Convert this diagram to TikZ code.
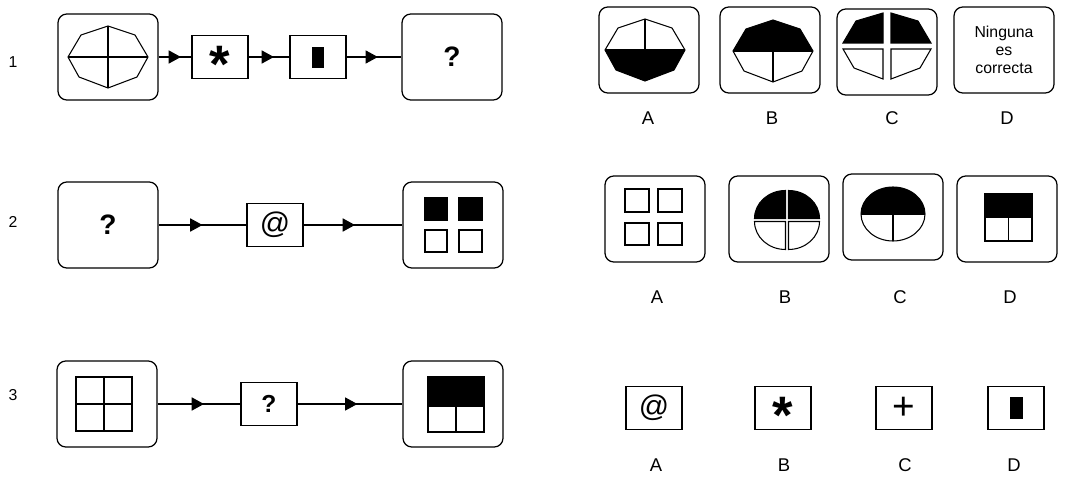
\documentclass[tikz,border=0pt]{standalone}
\usepackage{fontspec}
\setmainfont{Liberation Sans}
\usetikzlibrary{arrows.meta,decorations.markings}
\tikzset{
	panel/.style={shape=rectangle, rounded corners=5pt, draw=black, line width=0.7pt, minimum width=2cm, minimum height=1.72cm, inner sep=0pt},
	op/.style={shape=rectangle, draw=black, line width=0.7pt, minimum width=1.12cm, minimum height=0.86cm, inner sep=0pt},
	flow/.style={draw=black, line width=0.6pt, postaction={decorate}, decoration={markings, mark=at position #1 with {\arrow{Triangle[length=7pt,width=7.5pt]}}}},
	flow/.default=0.5,
	num/.style={font=\fontsize{9}{10}\selectfont},
	letter/.style={font=\fontsize{10.5}{12}\selectfont},
	quest/.style={font=\fontsize{16}{18}\selectfont\bfseries},
	smallquest/.style={font=\fontsize{14}{16}\selectfont\bfseries},
	sym/.style={font=\fontsize{17}{18}\selectfont},
	plus/.style={font=\fontsize{22}{24}\selectfont},
	star/.style={font=\fontsize{30}{30}\selectfont\bfseries},
	note/.style={font=\fontsize{9}{10.2}\selectfont, align=center},
	fig/.style={line width=0.6pt}
}
\newcommand{\octpath}{(-40,0) -- (-27,-22) -- (0,-31) -- (27,-22) -- (40,0) -- (29,20) -- (0,31) -- (-29,20) -- cycle}
\newcommand{\opstar}{\smash{\raisebox{-14.5pt}{*}}}

\begin{document}
\begin{tikzpicture}[x=0.02cm, y=-0.02cm]
	\useasboundingbox (0,0) rectangle (1065,483);

	\node[num]              (r1) at (13,62)   {1};
	\node[num]              (r2) at (13,222)  {2};
	\node[num]              (r3) at (13,395)  {3};

	\node[panel]            (1a) at (108,57)  {};
	\node[op, star]         (1b) at (220,57)  {\opstar};
	\node[op]               (1c) at (318,57)  {};
	\node[panel, quest]     (1d) at (452,57)  {?};

	\node[panel, quest]     (2a) at (108,225) {?};
	\node[op, sym]          (2b) at (275,225) {@};
	\node[panel]            (2c) at (453,225) {};

	\node[panel]            (3a) at (107,404) {};
	\node[op, smallquest]   (3b) at (269,404) {?};
	\node[panel]            (3c) at (453,404) {};

	\path (1a) edge[flow=0.68] (1b);
	\path (1b) edge[flow=0.62] (1c);
	\path (1c) edge[flow=0.57] (1d);
	\path (2a) edge[flow=0.5]  (2b);
	\path (2b) edge[flow=0.52] (2c);
	\path (3a) edge[flow=0.56] (3b);
	\path (3b) edge[flow=0.57] (3c);

	\begin{scope}[shift={(1a.center)}, fig]
		\draw \octpath;
		\draw (-40,0) -- (40,0) (0,-31) -- (0,31);
	\end{scope}
	\fill (1c.center) ++(-6,-10) rectangle ++(12,21);
	\begin{scope}[shift={(2c.center)}, fig]
		\filldraw (-28,-27) rectangle (-6,-5);
		\filldraw (6,-27)   rectangle (29,-5);
		\draw     (-28,5)   rectangle (-6,27);
		\draw     (6,5)     rectangle (29,27);
	\end{scope}
	\begin{scope}[shift={(3a.center)}, fig]
		\draw (-31,-27) rectangle (25,27);
		\draw (-31,0) -- (25,0) (-3,-27) -- (-3,27);
	\end{scope}
	\begin{scope}[shift={(3c.center)}, fig]
		\filldraw (-25,-27) rectangle (31,2);
		\draw (-25,2) rectangle (31,28);
		\draw (3,2) -- (3,28);
	\end{scope}

	\node[panel]            (1A) at (649,50)  {};
	\node[panel]            (1B) at (770,50)  {};
	\node[panel]            (1C) at (887,52)  {};
	\node[panel, note]      (1D) at (1004,50) {Ninguna\\es\\correcta};
	\node[letter]           (l1A) at (648,118) {A};
	\node[letter]           (l1B) at (772,118) {B};
	\node[letter]           (l1C) at (892,118) {C};
	\node[letter]           (l1D) at (1007,118) {D};

	\begin{scope}[shift={(645,50)}, fig]
		\fill (-40,0) -- (40,0) -- (29,20) -- (0,31) -- (-29,20) -- cycle;
		\draw \octpath;
		\draw (-40,0) -- (40,0) (0,-31) -- (0,0);
	\end{scope}
	\begin{scope}[shift={(773,51)}, fig]
		\fill (-40,0) -- (-27,-22) -- (0,-31) -- (27,-22) -- (40,0) -- cycle;
		\draw \octpath;
		\draw (-40,0) -- (40,0) (0,0) -- (0,31);
	\end{scope}
	\begin{scope}[shift={(887,46)}, fig]
		\filldraw (-4,-3) -- (-44,-3) -- (-31,-25) -- (-4,-33) -- cycle;
		\filldraw (4,-3)  -- (44,-3)  -- (31,-25)  -- (4,-33)  -- cycle;
		\draw     (-4,3)  -- (-44,3)  -- (-33,22)  -- (-4,33)  -- cycle;
		\draw     (4,3)   -- (44,3)   -- (33,22)   -- (4,33)   -- cycle;
	\end{scope}

	\node[panel]            (2A) at (655,219) {};
	\node[panel]            (2B) at (779,219) {};
	\node[panel]            (2C) at (893,217) {};
	\node[panel]            (2D) at (1007,219) {};
	\node[letter]           (l2A) at (657,297) {A};
	\node[letter]           (l2B) at (785,297) {B};
	\node[letter]           (l2C) at (900,297) {C};
	\node[letter]           (l2D) at (1010,297) {D};

	\begin{scope}[shift={(2A.center)}, fig]
		\draw (-30,-30) rectangle (-6,-7);
		\draw (3,-30)   rectangle (27,-7);
		\draw (-30,4)   rectangle (-6,26);
		\draw (3,4)     rectangle (27,26);
	\end{scope}
	\begin{scope}[shift={(787,220)}, fig]
		\filldraw (-1.5,-1.5) -- ++(-31,0) arc (180:270:31 and 28) -- cycle;
		\filldraw (1.5,-1.5)  -- ++(31,0)  arc (0:-90:31 and 28)   -- cycle;
		\draw     (-1.5,1.5)  -- ++(-31,0) arc (180:90:31 and 28)  -- cycle;
		\draw     (1.5,1.5)   -- ++(31,0)  arc (0:90:31 and 28)    -- cycle;
	\end{scope}
	\begin{scope}[shift={(893,214)}, fig]
		\fill (-32,0) arc (180:360:32 and 27) -- cycle;
		\draw (0,0) ellipse (32 and 27);
		\draw (-32,0) -- (32,0) (0,0) -- (0,27);
	\end{scope}
	\begin{scope}[fig]
		\filldraw (985,194) rectangle (1032,217);
		\draw (985,217) rectangle (1032,241);
		\draw (1008.5,217) -- (1008.5,241);
	\end{scope}

	\node[op, sym]          (3A) at (654,408) {@};
	\node[op, star]         (3B) at (783,408) {\opstar};
	\node[op, plus]         (3C) at (904,408) {+};
	\node[op]               (3D) at (1016,408) {};
	\node[letter]           (l3A) at (656,465) {A};
	\node[letter]           (l3B) at (784,465) {B};
	\node[letter]           (l3C) at (905,465) {C};
	\node[letter]           (l3D) at (1014,465) {D};
	\fill (3D.center) ++(-6,-11) rectangle ++(13,22);
\end{tikzpicture}
\end{document}
